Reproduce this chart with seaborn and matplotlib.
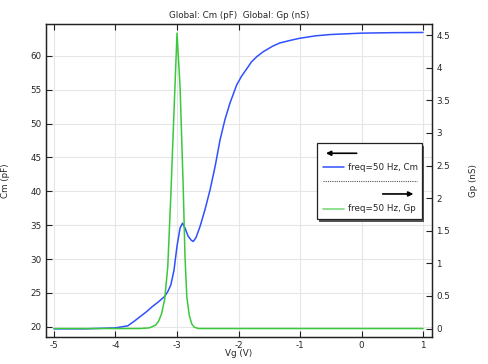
import numpy as np
import pandas as pd
import matplotlib
matplotlib.use("Agg")
import matplotlib.pyplot as plt
import seaborn as sns
from matplotlib.patches import Rectangle

# ---- data ----
vg_cm = [-5.0, -4.5, -4.0, -3.8, -3.7, -3.6, -3.5, -3.4, -3.3, -3.2, -3.15, -3.1,
         -3.05, -3.0, -2.95, -2.91, -2.87, -2.82, -2.77, -2.735, -2.69, -2.626,
         -2.545, -2.463, -2.38, -2.30, -2.22, -2.14, -2.03, -1.95, -1.85, -1.79,
         -1.7, -1.6, -1.45, -1.33, -1.15, -1.0, -0.75, -0.5, -0.25, 0.0, 0.5, 1.0]
cm_vals = [19.7, 19.7, 19.85, 20.15, 20.8, 21.5, 22.2, 23.0, 23.7, 24.5, 25.2, 26.2,
           28.3, 31.9, 34.6, 35.3, 34.6, 33.4, 32.8, 32.6, 33.2, 34.8,
           37.3, 40.2, 43.7, 47.6, 50.6, 53.0, 55.7, 57.0, 58.3, 59.1,
           59.9, 60.6, 61.4, 61.9, 62.3, 62.6, 62.95, 63.15, 63.25, 63.35, 63.42, 63.45]

vg_gp = [-5.0, -3.6, -3.45, -3.35, -3.3, -3.25, -3.2, -3.15, -3.1, -3.05, -3.0,
         -2.95, -2.9, -2.87, -2.84, -2.8, -2.76, -2.72, -2.65, 1.0]
gp_vals = [0.0, 0.0, 0.01, 0.05, 0.11, 0.23, 0.45, 0.95, 2.05, 3.3, 4.53,
           3.7, 2.2, 1.1, 0.48, 0.2, 0.07, 0.02, 0.0, 0.0]

xticks = [-5, -4, -3, -2, -1, 0, 1]
cm_ticks = [20, 25, 30, 35, 40, 45, 50, 55, 60]
gp_ticks = [0, 0.5, 1, 1.5, 2, 2.5, 3, 3.5, 4, 4.5]
gp_ticklabels = ["0", "0.5", "1", "1.5", "2", "2.5", "3", "3.5", "4", "4.5"]

title = "Global: Cm (pF)  Global: Gp (nS)"
label_cm = "freq=50 Hz, Cm"
label_gp = "freq=50 Hz, Gp"

blue = "#3050ff"
green = "#3cc83c"

sns.set_theme(style="ticks")
plt.rcParams["font.family"] = ["DejaVu Sans"]
fs = 6.3

df_cm = pd.DataFrame({"Vg": vg_cm, "Cm": cm_vals})
df_gp = pd.DataFrame({"Vg": vg_gp, "Gp": gp_vals})

fig = plt.figure(figsize=(4.88, 3.64), dpi=100)
ax = fig.add_axes([46 / 488, 1 - 337 / 364, 386 / 488, 313 / 364])
ax2 = ax.twinx()

sns.lineplot(data=df_cm, x="Vg", y="Cm", ax=ax, color=blue, lw=1.1)
sns.lineplot(data=df_gp, x="Vg", y="Gp", ax=ax2, color=green, lw=1.1)

ax.set_xlim(-5.13, 1.146)
ax.set_ylim(18.5, 64.7)
ax2.set_ylim(-0.13, 4.67)

ax.set_xticks(xticks)
ax.set_xticklabels([str(t) for t in xticks])
ax.set_yticks(cm_ticks)
ax.set_yticklabels([str(t) for t in cm_ticks])
ax2.set_yticks(gp_ticks)
ax2.set_yticklabels(gp_ticklabels)

ax.grid(True, color="#e6e6e6", lw=0.8)
ax.set_axisbelow(True)

ax.tick_params(axis="both", labelsize=fs, length=4, width=0.8, pad=3,
               color="#222222", direction="in")
ax.tick_params(axis="x", top=True)
ax2.tick_params(axis="y", labelsize=fs, length=4, width=0.8, pad=3,
                color="#222222", direction="in")
for a in (ax, ax2):
    for s in a.spines.values():
        s.set_color("#222222")
        s.set_linewidth(0.9)

ax.set_xlabel("Vg (V)", fontsize=fs)
ax.set_ylabel("Cm (pF)", fontsize=fs)
ax2.set_ylabel("Gp (nS)", fontsize=fs)
ax.xaxis.set_label_coords(0.5, -0.038)
ax.yaxis.set_label_coords(-0.093, 0.5)
ax2.yaxis.set_label_coords(1.096, 0.5)
ax.set_title(title, fontsize=fs, pad=4)

# ---- custom legend ----
t = ax2.transAxes
bx0, by0, bx1, by1 = 0.701, 0.376, 0.973, 0.619
ax2.add_patch(Rectangle((bx0 + 0.007, by0 - 0.009), bx1 - bx0, by1 - by0, transform=t,
                        facecolor="#555555", edgecolor="none", zorder=9, clip_on=False))
ax2.add_patch(Rectangle((bx0, by0), bx1 - bx0, by1 - by0, transform=t,
                        facecolor="white", edgecolor="#222222", lw=0.9, zorder=10, clip_on=False))
ax2.annotate("", xy=(0.718, 0.587), xytext=(0.812, 0.587), xycoords=t, textcoords=t,
             arrowprops=dict(arrowstyle="-|>", color="black", lw=1.2, mutation_scale=7), zorder=11)
ax2.plot([0.718, 0.773], [0.542, 0.542], transform=t, color=blue, lw=1.1, zorder=11)
ax2.text(0.783, 0.542, label_cm, transform=t, fontsize=fs, va="center", ha="left", zorder=11)
ax2.plot([0.718, 0.960], [0.499, 0.499], transform=t, color="#555555", lw=0.8,
         ls=(0, (1, 1)), zorder=11)
ax2.annotate("", xy=(0.959, 0.457), xytext=(0.865, 0.457), xycoords=t, textcoords=t,
             arrowprops=dict(arrowstyle="-|>", color="black", lw=1.2, mutation_scale=7), zorder=11)
ax2.plot([0.718, 0.773], [0.409, 0.409], transform=t, color="#88dd88", lw=1.3, zorder=11)
ax2.text(0.783, 0.409, label_gp, transform=t, fontsize=fs, va="center", ha="left", zorder=11)

fig.savefig("out.png", dpi=100)
